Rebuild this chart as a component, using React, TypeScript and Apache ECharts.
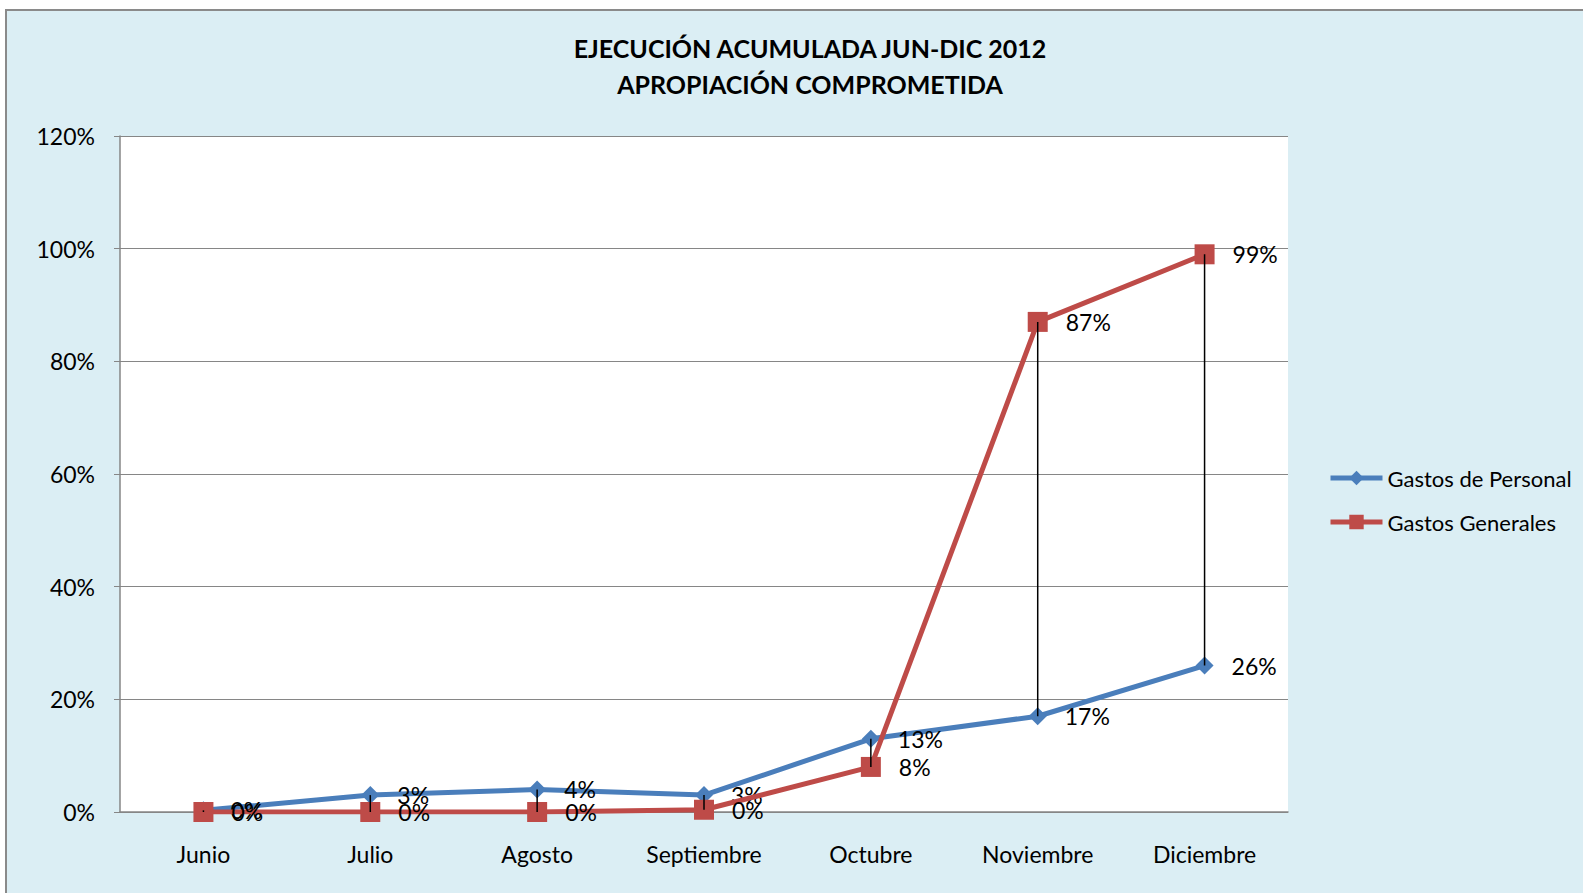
import React, { useEffect, useRef } from "react";
import * as echarts from "echarts";

const categories = ["Junio", "Julio", "Agosto", "Septiembre", "Octubre", "Noviembre", "Diciembre"];
const gastosPersonal = [0.3, 3, 4, 3, 13, 17, 26];
const gastosGenerales = [0, 0, 0, 0.4, 8, 87, 99];
const yTicks = [0, 20, 40, 60, 80, 100, 120];

const FONT = "Lato, 'Open Sans', sans-serif";

export default function App() {
  const ref = useRef<HTMLDivElement>(null);
  useEffect(() => {
    document.body.style.margin = "0";
    const chart = echarts.init(ref.current!, null, { renderer: "svg" });
    const dropData = categories.map((_, i) => [i, gastosPersonal[i], gastosGenerales[i]]);
    const labelCfg = {
      show: true,
      position: "right" as const,
      distance: 18,
      color: "#000",
      fontSize: 23,
      fontFamily: FONT,
      formatter: (p: any) => Math.round(p.value) + "%",
    };
    chart.setOption({
      animation: false,
      backgroundColor: "transparent",
      graphic: [
        {
          type: "rect",
          shape: { x: 6, y: 10, width: 1600, height: 900 },
          style: { fill: "#DBEEF4", stroke: "#8A8A8A", lineWidth: 2 },
          z: -10,
          silent: true,
        },
      ],
      title: {
        text: "EJECUCIÓN ACUMULADA JUN-DIC 2012\nAPROPIACIÓN COMPROMETIDA",
        left: 805,
        top: 25,
        textAlign: "center",
        textStyle: { fontFamily: FONT, fontWeight: "bold", fontSize: 25, lineHeight: 36, color: "#000" },
      },
      legend: {
        orient: "vertical",
        left: 1323,
        top: 462,
        itemWidth: 52,
        itemHeight: 18,
        itemGap: 22,
        lineStyle: { width: 5 },
        textStyle: { fontFamily: FONT, fontSize: 22, color: "#000" },
        data: ["Gastos de Personal", "Gastos Generales"],
      },
      grid: {
        left: 120,
        right: 295,
        top: 136,
        bottom: 81,
        show: true,
        backgroundColor: "#fff",
        borderWidth: 0,
      },
      xAxis: {
        type: "category",
        data: categories,
        boundaryGap: true,
        axisLine: { lineStyle: { color: "#868686", width: 1.5 } },
        axisTick: { show: false },
        axisLabel: { color: "#000", fontSize: 23, fontFamily: FONT, margin: 30 },
      },
      yAxis: {
        type: "value",
        min: yTicks[0],
        max: yTicks[yTicks.length - 1],
        interval: 20,
        axisLine: { show: true, lineStyle: { color: "#868686", width: 1.5 } },
        axisTick: { show: true, length: 6, lineStyle: { color: "#868686" } },
        axisLabel: { color: "#000", fontSize: 23, fontFamily: FONT, margin: 25, formatter: "{value}%" },
        splitLine: { lineStyle: { color: "#868686", width: 1.2 } },
      },
      series: [
        {
          name: "Gastos de Personal",
          type: "line",
          data: gastosPersonal,
          symbol: "diamond",
          symbolSize: 18,
          color: "#4A7EBB",
          lineStyle: { width: 5, color: "#4A7EBB" },
          itemStyle: { color: "#4A7EBB" },
          label: labelCfg,
          z: 3,
        },
        {
          name: "Gastos Generales",
          type: "line",
          data: gastosGenerales,
          symbol: "rect",
          symbolSize: 20,
          color: "#BE4B48",
          lineStyle: { width: 5, color: "#BE4B48" },
          itemStyle: { color: "#BE4B48" },
          label: labelCfg,
          z: 4,
        },
        {
          type: "custom",
          name: "drop",
          data: dropData,
          z: 10,
          silent: true,
          renderItem: (params: any, api: any) => {
            const i = api.value(0);
            const a = api.coord([i, api.value(1)]);
            const b = api.coord([i, api.value(2)]);
            return {
              type: "line",
              shape: { x1: a[0], y1: a[1], x2: b[0], y2: b[1] },
              style: { stroke: "#000", lineWidth: 1.5 },
            };
          },
        },
      ],
    });
    return () => chart.dispose();
  }, []);
  return <div ref={ref} style={{ position: "absolute", left: 0, top: 0, width: 1583, height: 893 }} />;
}
